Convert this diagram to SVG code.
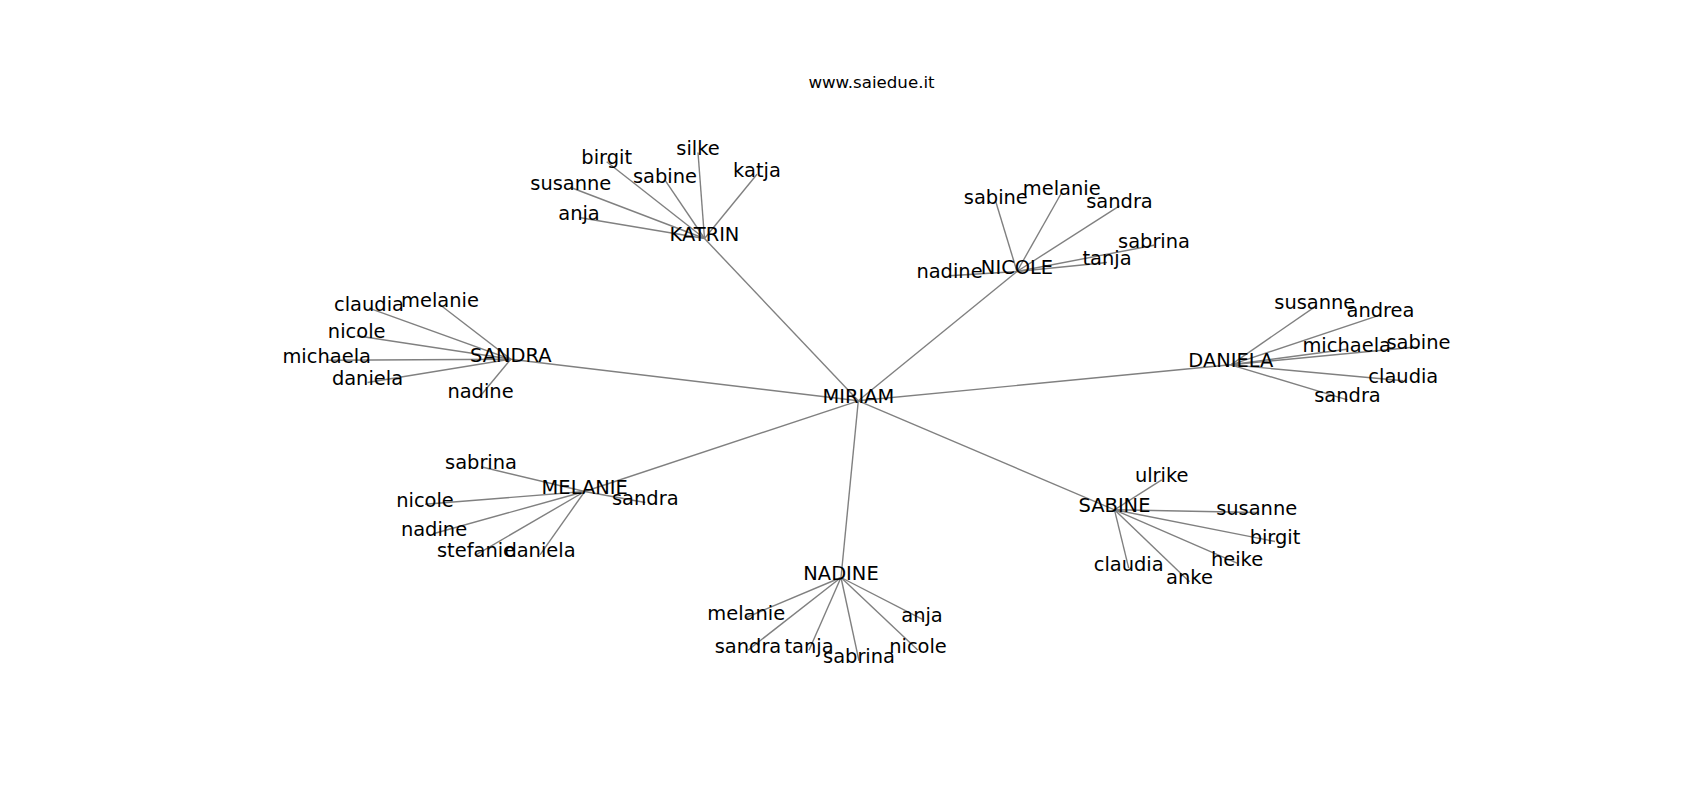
<svg xmlns="http://www.w3.org/2000/svg" width="1700" height="800" viewBox="0 0 1700 800">
<style>
.e{stroke:#808080;stroke-width:1.4;fill:none}
text{font-family:"DejaVu Sans",sans-serif;font-size:19.44px;fill:#000;text-anchor:middle}
.title{font-size:16.67px}
</style>
<rect width="1700" height="800" fill="#fff"/>
<text class="title" x="871.5" y="87.7">www.saiedue.it</text>
<g id="edges">
<line class="e" x1="858.3" y1="400.8" x2="704.5" y2="238.5"/>
<line class="e" x1="858.3" y1="400.8" x2="1017" y2="271.5"/>
<line class="e" x1="858.3" y1="400.8" x2="510.8" y2="359.2"/>
<line class="e" x1="858.3" y1="400.8" x2="1230.8" y2="364.8"/>
<line class="e" x1="858.3" y1="400.8" x2="584.7" y2="491.5"/>
<line class="e" x1="858.3" y1="400.8" x2="1114.5" y2="509.8"/>
<line class="e" x1="858.3" y1="400.8" x2="841" y2="577.5"/>
<line class="e" x1="704.5" y1="238.5" x2="606.7" y2="161.8"/>
<line class="e" x1="704.5" y1="238.5" x2="698" y2="152.5"/>
<line class="e" x1="704.5" y1="238.5" x2="665" y2="180.2"/>
<line class="e" x1="704.5" y1="238.5" x2="757" y2="174.2"/>
<line class="e" x1="704.5" y1="238.5" x2="570.8" y2="187.5"/>
<line class="e" x1="704.5" y1="238.5" x2="579" y2="217.5"/>
<line class="e" x1="1017" y1="271.5" x2="995.8" y2="201.8"/>
<line class="e" x1="1017" y1="271.5" x2="1061.7" y2="192.5"/>
<line class="e" x1="1017" y1="271.5" x2="1119.5" y2="205.8"/>
<line class="e" x1="1017" y1="271.5" x2="1154" y2="245.2"/>
<line class="e" x1="1017" y1="271.5" x2="1107" y2="262.5"/>
<line class="e" x1="1017" y1="271.5" x2="949.5" y2="275.8"/>
<line class="e" x1="510.8" y1="359.2" x2="369" y2="308.2"/>
<line class="e" x1="510.8" y1="359.2" x2="440" y2="304.8"/>
<line class="e" x1="510.8" y1="359.2" x2="356.7" y2="335.8"/>
<line class="e" x1="510.8" y1="359.2" x2="326.7" y2="360.2"/>
<line class="e" x1="510.8" y1="359.2" x2="367.5" y2="382.5"/>
<line class="e" x1="510.8" y1="359.2" x2="480.5" y2="395.8"/>
<line class="e" x1="1230.8" y1="364.8" x2="1314.8" y2="306.8"/>
<line class="e" x1="1230.8" y1="364.8" x2="1380.5" y2="314.8"/>
<line class="e" x1="1230.8" y1="364.8" x2="1346.7" y2="349.2"/>
<line class="e" x1="1230.8" y1="364.8" x2="1418.5" y2="346.8"/>
<line class="e" x1="1230.8" y1="364.8" x2="1403.3" y2="380.8"/>
<line class="e" x1="1230.8" y1="364.8" x2="1347.5" y2="399.8"/>
<line class="e" x1="584.7" y1="491.5" x2="481" y2="466.8"/>
<line class="e" x1="584.7" y1="491.5" x2="425" y2="504.2"/>
<line class="e" x1="584.7" y1="491.5" x2="434" y2="533.5"/>
<line class="e" x1="584.7" y1="491.5" x2="476" y2="554.8"/>
<line class="e" x1="584.7" y1="491.5" x2="540" y2="554.8"/>
<line class="e" x1="584.7" y1="491.5" x2="645.3" y2="502.5"/>
<line class="e" x1="1114.5" y1="509.8" x2="1161.7" y2="479.8"/>
<line class="e" x1="1114.5" y1="509.8" x2="1256.7" y2="512.5"/>
<line class="e" x1="1114.5" y1="509.8" x2="1275" y2="541.5"/>
<line class="e" x1="1114.5" y1="509.8" x2="1237" y2="563.2"/>
<line class="e" x1="1114.5" y1="509.8" x2="1128.7" y2="568.2"/>
<line class="e" x1="1114.5" y1="509.8" x2="1189.5" y2="581.8"/>
<line class="e" x1="841" y1="577.5" x2="746.2" y2="617.5"/>
<line class="e" x1="841" y1="577.5" x2="748" y2="650.2"/>
<line class="e" x1="841" y1="577.5" x2="809" y2="650.2"/>
<line class="e" x1="841" y1="577.5" x2="859" y2="660.8"/>
<line class="e" x1="841" y1="577.5" x2="918" y2="650.2"/>
<line class="e" x1="841" y1="577.5" x2="922" y2="619.2"/>
</g>
<g id="miriam"><text x="858.3" y="403.3">MIRIAM</text></g>
<g id="katrin"><text x="704.5" y="241">KATRIN</text></g>
<g id="nicole"><text x="1017" y="274">NICOLE</text></g>
<g id="sandra"><text x="510.8" y="361.7">SANDRA</text></g>
<g id="daniela"><text x="1230.8" y="367.3">DANIELA</text></g>
<g id="melanie"><text x="584.7" y="494">MELANIE</text></g>
<g id="sabine"><text x="1114.5" y="512.3">SABINE</text></g>
<g id="nadine"><text x="841" y="580">NADINE</text></g>
<g id="katrin-birgit"><text x="606.7" y="164.3">birgit</text></g>
<g id="katrin-silke"><text x="698" y="155">silke</text></g>
<g id="katrin-sabine"><text x="665" y="182.7">sabine</text></g>
<g id="katrin-katja"><text x="757" y="176.7">katja</text></g>
<g id="katrin-susanne"><text x="570.8" y="190">susanne</text></g>
<g id="katrin-anja"><text x="579" y="220">anja</text></g>
<g id="nicole-sabine"><text x="995.8" y="204.3">sabine</text></g>
<g id="nicole-melanie"><text x="1061.7" y="195">melanie</text></g>
<g id="nicole-sandra"><text x="1119.5" y="208.3">sandra</text></g>
<g id="nicole-sabrina"><text x="1154" y="247.7">sabrina</text></g>
<g id="nicole-tanja"><text x="1107" y="265">tanja</text></g>
<g id="nicole-nadine"><text x="949.5" y="278.3">nadine</text></g>
<g id="sandra-claudia"><text x="369" y="310.7">claudia</text></g>
<g id="sandra-melanie"><text x="440" y="307.3">melanie</text></g>
<g id="sandra-nicole"><text x="356.7" y="338.3">nicole</text></g>
<g id="sandra-michaela"><text x="326.7" y="362.7">michaela</text></g>
<g id="sandra-daniela"><text x="367.5" y="385">daniela</text></g>
<g id="sandra-nadine"><text x="480.5" y="398.3">nadine</text></g>
<g id="daniela-susanne"><text x="1314.8" y="309.3">susanne</text></g>
<g id="daniela-andrea"><text x="1380.5" y="317.3">andrea</text></g>
<g id="daniela-michaela"><text x="1346.7" y="351.7">michaela</text></g>
<g id="daniela-sabine"><text x="1418.5" y="349.3">sabine</text></g>
<g id="daniela-claudia"><text x="1403.3" y="383.3">claudia</text></g>
<g id="daniela-sandra"><text x="1347.5" y="402.3">sandra</text></g>
<g id="melanie-sabrina"><text x="481" y="469.3">sabrina</text></g>
<g id="melanie-nicole"><text x="425" y="506.7">nicole</text></g>
<g id="melanie-nadine"><text x="434" y="536">nadine</text></g>
<g id="melanie-stefanie"><text x="476" y="557.3">stefanie</text></g>
<g id="melanie-daniela"><text x="540" y="557.3">daniela</text></g>
<g id="melanie-sandra"><text x="645.3" y="505">sandra</text></g>
<g id="sabine-ulrike"><text x="1161.7" y="482.3">ulrike</text></g>
<g id="sabine-susanne"><text x="1256.7" y="515">susanne</text></g>
<g id="sabine-birgit"><text x="1275" y="544">birgit</text></g>
<g id="sabine-heike"><text x="1237" y="565.7">heike</text></g>
<g id="sabine-claudia"><text x="1128.7" y="570.7">claudia</text></g>
<g id="sabine-anke"><text x="1189.5" y="584.3">anke</text></g>
<g id="nadine-melanie"><text x="746.2" y="620">melanie</text></g>
<g id="nadine-sandra"><text x="748" y="652.7">sandra</text></g>
<g id="nadine-tanja"><text x="809" y="652.7">tanja</text></g>
<g id="nadine-sabrina"><text x="859" y="663.3">sabrina</text></g>
<g id="nadine-nicole"><text x="918" y="652.7">nicole</text></g>
<g id="nadine-anja"><text x="922" y="621.7">anja</text></g>
</svg>
